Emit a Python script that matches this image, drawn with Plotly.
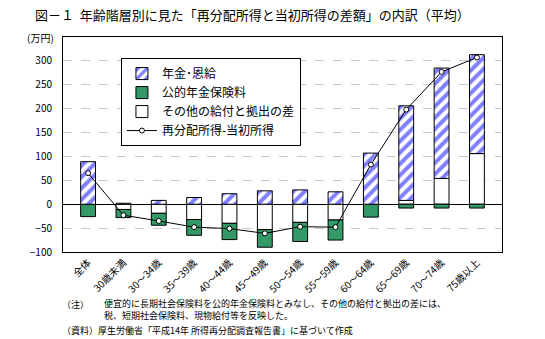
import plotly.graph_objects as go

categories = ["全体", "30歳未満", "30～34歳", "35～39歳", "40～44歳", "45～49歳",
              "50～54歳", "55～59歳", "60～64歳", "65～69歳", "70～74歳", "75歳以上"]
pension = [89, 2, 8, 14, 22, 28, 30, 26, 107, 198, 231, 207]
insurance = [-26, -17, -25, -33, -34, -37, -40, -42, -27, -8, -8, -8]
other = [0, -11, -19, -32, -40, -53, -38, -33, 0, 8, 54, 106]
net = [65, -23, -35, -48, -51, -61, -47, -48, 83, 198, 277, 307]
ytickvals = [-100, -50, 0, 50, 100, 150, 200, 250, 300]

FONT = "Noto Sans CJK JP, sans-serif"

fig = go.Figure()
fig.add_trace(go.Bar(x=categories, y=other, name="その他の給付と拠出の差",
                     marker=dict(color="white", line=dict(color="black", width=1)),
                     legendrank=3, width=0.42))
fig.add_trace(go.Bar(x=categories, y=insurance, name="公的年金保険料",
                     marker=dict(color="#339966", line=dict(color="black", width=1)),
                     legendrank=2, width=0.42))
fig.add_trace(go.Bar(x=categories, y=pension, name="年金･恩給",
                     marker=dict(color="white", line=dict(color="black", width=1),
                                 pattern=dict(shape="/", fgcolor="#0000ff", bgcolor="white",
                                              size=8, solidity=0.5)),
                     legendrank=1, width=0.42))
fig.add_trace(go.Scatter(x=categories, y=net, name="再分配所得-当初所得",
                         mode="lines+markers",
                         line=dict(color="black", width=1),
                         marker=dict(symbol="circle", size=5, color="white",
                                     line=dict(color="black", width=1)),
                         legendrank=4))

fig.update_layout(
    barmode="relative",
    width=545, height=339,
    margin=dict(l=63, r=43, t=37, b=87),
    paper_bgcolor="white", plot_bgcolor="white",
    font=dict(family=FONT, size=10, color="black"),
    showlegend=True,
    legend=dict(x=0.132, y=0.902, xanchor="left", yanchor="top",
                bordercolor="black", borderwidth=1, bgcolor="white",
                font=dict(size=12), tracegroupgap=0, itemwidth=30),
    title=dict(text="図－１  年齢階層別に見た「再分配所得と当初所得の差額」の内訳（平均）",
               x=0.064, xanchor="left", y=0.955, yanchor="middle",
               font=dict(size=13, family=FONT)),
)
fig.update_xaxes(showline=True, linecolor="black", linewidth=1, mirror=True,
                 ticks="", tickangle=-45, tickfont=dict(size=10),
                 showgrid=False)
fig.update_yaxes(range=[-100, 350], tickvals=ytickvals,
                 showline=True, linecolor="black", linewidth=1, mirror=True,
                 showgrid=True, gridcolor="#c8c8c8", griddash="dash", gridwidth=1,
                 zeroline=True, zerolinecolor="black", zerolinewidth=1,
                 ticks="", ticklabelstandoff=8, tickfont=dict(size=10))

fig.add_annotation(text="(万円)", xref="paper", yref="paper", x=-0.015, y=1.0,
                   xanchor="right", yanchor="middle", showarrow=False,
                   font=dict(size=10))
notes = [
    ("（注）", 60, 304),
    ("便宜的に長期社会保険料を公的年金保険料とみなし、その他の給付と拠出の差には、<br>"
     "税、短期社会保険料、現物給付等を反映した。", 102, 309),
    ("（資料）厚生労働省「平成14年 所得再分配調査報告書」に基づいて作成", 60, 330),
]
for txt, px, py in notes:
    fig.add_annotation(text=txt, xref="paper", yref="paper",
                       x=(px - 63) / 439, y=(252 - py) / 215,
                       xanchor="left", yanchor="middle", showarrow=False,
                       align="left", font=dict(size=9))

fig.write_html("out.html")
